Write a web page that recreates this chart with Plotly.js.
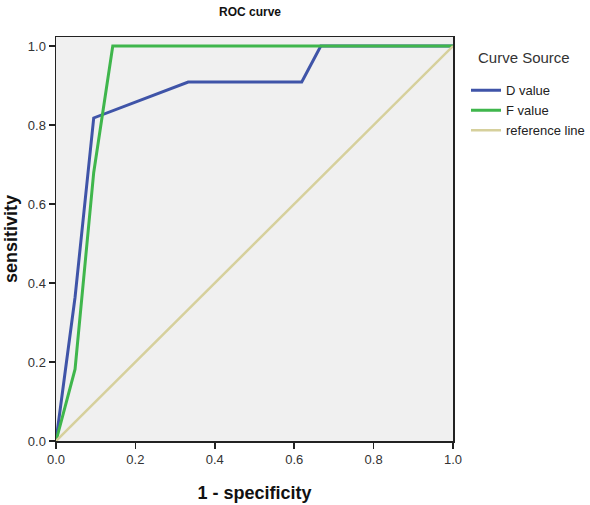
<!DOCTYPE html>
<html>
<head>
<meta charset="utf-8">
<script src="https://cdn.plot.ly/plotly-3.0.1.min.js"></script>
<style>html,body{margin:0;padding:0;background:#fff;}#chart{width:590px;height:505px;}</style>
</head>
<body>
<div id="chart"></div>
<script>
// D value ROC curve
var dX = [0, 0.048, 0.095, 0.333, 0.619, 0.667, 1.0];
var dY = [0, 0.364, 0.818, 0.909, 0.909, 1.0, 1.0];
// F value ROC curve
var fX = [0, 0.048, 0.095, 0.143, 1.0];
var fY = [0, 0.182, 0.68, 1.0, 1.0];
// reference line
var refX = [0, 1];
var refY = [0, 1];
var seriesNames = ["D value", "F value", "reference line"];
var legendTitle = "Curve Source";
var xTicks = [0, 0.2, 0.4, 0.6, 0.8, 1.0];
var yTicks = [0, 0.2, 0.4, 0.6, 0.8, 1.0];

var FONT = 'Liberation Sans, Arial, sans-serif';
// paper spans x 56..590 (534 px); plot 56..453
var PW = 534;
function px(p) { return (p - 56) / PW; }

var traces = [
  {x: dX, y: dY, mode: 'lines', name: seriesNames[0], line: {color: '#3f54a8', width: 3}},
  {x: fX, y: fY, mode: 'lines', name: seriesNames[1], line: {color: '#3fb64c', width: 3}},
  {x: refX, y: refY, mode: 'lines', name: seriesNames[2], line: {color: '#d6d09c', width: 2.5}}
];

var axisCommon = {
  showgrid: false, zeroline: false,
  showline: true, linecolor: '#222', linewidth: 1.5, mirror: true,
  ticks: 'outside', ticklen: 6, tickwidth: 1.5, tickcolor: '#222',
  tickfont: {family: FONT, size: 13, color: '#333'},
  tickformat: '.1f'
};

var layout = {
  width: 590, height: 505,
  margin: {l: 56, r: 0, t: 37, b: 64},
  paper_bgcolor: '#ffffff',
  plot_bgcolor: '#f0f0f0',
  title: {text: '<b>ROC curve</b>', xref: 'container', x: 250 / 590, xanchor: 'center', y: 0.985, yanchor: 'top',
          font: {family: FONT, size: 12, color: '#111'}},
  xaxis: Object.assign({}, axisCommon, {
    domain: [0, px(453)],
    range: [0, 1], tickvals: xTicks,
    title: {text: '<b>1 - specificity</b>', standoff: 20,
            font: {family: FONT, size: 18, color: '#111'}}
  }),
  yaxis: Object.assign({}, axisCommon, {
    range: [0, 1.023], tickvals: yTicks,
    title: {text: '<b>sensitivity</b>', standoff: 5,
            font: {family: FONT, size: 18, color: '#111'}}
  }),
  showlegend: true,
  legend: {
    x: px(466), xanchor: 'left', y: 0.905, yanchor: 'top',
    bgcolor: 'rgba(0,0,0,0)',
    font: {family: FONT, size: 13, color: '#222'},
    tracegroupgap: 0, itemwidth: 30
  },
  annotations: [{
    text: legendTitle, xref: 'paper', yref: 'paper',
    x: px(476), xanchor: 'left', y: 0.95, yanchor: 'middle',
    showarrow: false, font: {family: FONT, size: 15, color: '#333'}
  }]
};

Plotly.newPlot('chart', traces, layout, {displayModeBar: false, staticPlot: true});
</script>
</body>
</html>
